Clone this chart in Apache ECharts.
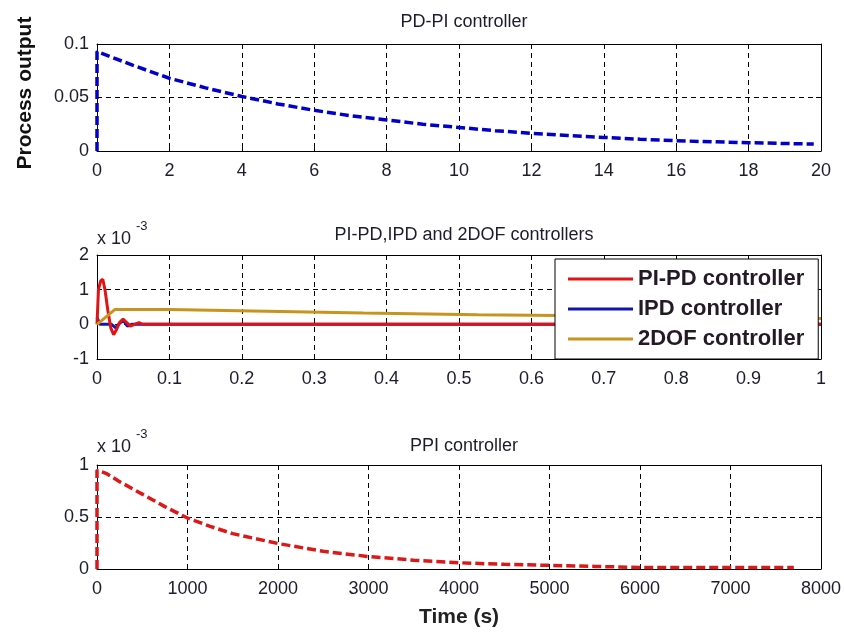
<!DOCTYPE html>
<html>
<head>
<meta charset="utf-8">
<script src="https://cdn.jsdelivr.net/npm/echarts@6/dist/echarts.min.js"></script>
<style>
  html, body { margin: 0; padding: 0; background: #fff; }
  #chart { width: 844px; height: 633px; }
</style>
</head>
<body>
<div id="chart"></div>
<script>
// PD-PI controller (top panel)
const pdpiTime = [0, 0, 1, 2, 3, 4, 5, 6, 7, 8, 9, 10, 11, 12, 13, 14, 15, 16, 17, 18, 19, 19.8]
const pdpiOut = [0, 0.093, 0.080, 0.068, 0.059, 0.051, 0.044, 0.038, 0.033, 0.029, 0.025, 0.022, 0.019, 0.0165, 0.0145, 0.0127, 0.011, 0.0096, 0.0086, 0.0078, 0.007, 0.0065]

// middle panel, values in units of 10^-3
const pipdTime = [0, 0.002, 0.005, 0.008, 0.011, 0.015, 0.019, 0.023, 0.027, 0.031, 0.036, 0.041, 0.046, 0.052, 0.058, 0.063, 1]
const pipdOut = [0, 1.0, 1.25, 1.3, 1.0, 0.4, -0.1, -0.3, -0.15, 0.05, 0.15, 0.05, -0.05, 0.0, 0.05, 0, 0]
const ipdTime = [0, 0.004, 0.02, 0.026, 0.032, 0.037, 0.042, 0.048, 1]
const ipdOut = [0.2, 0, 0, -0.1, 0.05, 0.1, -0.05, 0, 0]
const dofTime = [0, 0.025, 0.1, 0.101, 0.234, 0.235, 0.368, 0.369, 0.526, 0.527, 0.75, 0.751, 0.9, 0.901, 1]
const dofOut = [0, 0.43, 0.43, 0.38, 0.38, 0.33, 0.33, 0.28, 0.28, 0.23, 0.23, 0.2, 0.2, 0.17, 0.17]

// PPI controller (bottom panel), values in units of 10^-3
const ppiTime = [0, 0, 100, 250, 500, 750, 1000, 1250, 1500, 2000, 2500, 3000, 3500, 4000, 4500, 5000, 5500, 6000, 7000, 7700]
const ppiOut = [0, 0.95, 0.92, 0.84, 0.72, 0.60, 0.49, 0.41, 0.34, 0.245, 0.17, 0.12, 0.085, 0.06, 0.045, 0.035, 0.025, 0.015, 0.015, 0.015]

const zip = (xs, ys) => xs.map((x, i) => [x, ys[i]])

const FONT = 'Liberation Sans, Arial, sans-serif'
const TXT = '#1c1c2c'

const grids = [
  { left: 97, right: 23, top: 44, height: 107 },
  { left: 97, right: 23, top: 255, height: 104 },
  { left: 97, right: 23, top: 465, height: 104 }
]
const xRanges = [[0, 20, 2], [0, 1, 0.1], [0, 8000, 1000]]
const yRanges = [[0, 0.1, 0.05], [-1, 2, 1], [0, 1, 0.5]]

const gridLine = { show: true, lineStyle: { color: '#000', type: [5, 4], width: 1 } }
const axisLine = { show: true, onZero: false, lineStyle: { color: '#000', width: 1 } }
const tick = { show: true, inside: true, length: 5, lineStyle: { color: '#000' } }
const label = { color: TXT, fontSize: 18, fontFamily: FONT, formatter: v => String(+v.toFixed(4)) }

const xAxis = []
const yAxis = []
grids.forEach((g, i) => {
  const [xmin, xmax, xint] = xRanges[i]
  const [ymin, ymax, yint] = yRanges[i]
  xAxis.push({ type: 'value', gridIndex: i, min: xmin, max: xmax, interval: xint, position: 'bottom',
    axisLine, axisTick: tick, splitLine: gridLine, axisLabel: { ...label, margin: 11 } })
  yAxis.push({ type: 'value', gridIndex: i, min: ymin, max: ymax, interval: yint, position: 'left',
    axisLine, axisTick: tick, splitLine: gridLine, axisLabel: { ...label, margin: 8 } })
})
// box ticks on top and right edges
grids.forEach((g, i) => {
  const [xmin, xmax, xint] = xRanges[i]
  const [ymin, ymax, yint] = yRanges[i]
  xAxis.push({ type: 'value', gridIndex: i, min: xmin, max: xmax, interval: xint, position: 'top',
    axisLine, axisTick: tick, splitLine: { show: false }, axisLabel: { show: false } })
  yAxis.push({ type: 'value', gridIndex: i, min: ymin, max: ymax, interval: yint, position: 'right',
    axisLine, axisTick: tick, splitLine: { show: false }, axisLabel: { show: false } })
})

const titleStyle = { color: TXT, fontSize: 18, fontWeight: 'normal', fontFamily: FONT }

const chart = echarts.init(document.getElementById('chart'))
chart.setOption({
  backgroundColor: '#fff',
  animation: false,
  title: [
    { text: 'PD-PI controller', left: 459, top: 8, textAlign: 'center', textStyle: titleStyle },
    { text: 'PI-PD,IPD and 2DOF controllers', left: 459, top: 221, textAlign: 'center', textStyle: titleStyle },
    { text: 'PPI controller', left: 459, top: 432, textAlign: 'center', textStyle: titleStyle }
  ],
  grid: grids,
  xAxis,
  yAxis,
  legend: {
    data: ['PI-PD controller', 'IPD controller', '2DOF controller'],
    orient: 'vertical',
    left: 555,
    top: 259,
    padding: [9, 14, 9, 13],
    itemGap: 8,
    itemWidth: 65,
    itemHeight: 3,
    icon: 'rect',
    backgroundColor: '#fff',
    borderColor: '#000',
    borderWidth: 1,
    textStyle: { color: '#231a26', fontSize: 22, fontWeight: 'bold', fontFamily: FONT }
  },
  graphic: [
    { type: 'text', x: 97, y: 239, style: { text: 'x 10', fill: TXT, font: '18px ' + FONT, textVerticalAlign: 'middle' } },
    { type: 'text', x: 136, y: 226, style: { text: '-3', fill: TXT, font: '13px ' + FONT, textVerticalAlign: 'middle' } },
    { type: 'text', x: 97, y: 447, style: { text: 'x 10', fill: TXT, font: '18px ' + FONT, textVerticalAlign: 'middle' } },
    { type: 'text', x: 136, y: 434, style: { text: '-3', fill: TXT, font: '13px ' + FONT, textVerticalAlign: 'middle' } },
    { type: 'text', x: 25, y: 93, rotation: Math.PI / 2,
      style: { text: 'Process output', fill: '#111', font: 'bold 21px ' + FONT, textAlign: 'center', textVerticalAlign: 'middle' } },
    { type: 'text', x: 459, y: 617,
      style: { text: 'Time (s)', fill: '#222', font: 'bold 21px ' + FONT, textAlign: 'center', textVerticalAlign: 'middle' } }
  ],
  series: [
    {
      name: 'PD-PI controller', type: 'line', xAxisIndex: 0, yAxisIndex: 0,
      data: zip(pdpiTime, pdpiOut), showSymbol: false, symbol: 'none',
      lineStyle: { color: '#0000c8', width: 3.5, type: [9, 4] }, itemStyle: { color: '#0000c8' }
    },
    {
      name: 'IPD controller', type: 'line', xAxisIndex: 1, yAxisIndex: 1,
      data: zip(ipdTime, ipdOut), showSymbol: false, symbol: 'none',
      lineStyle: { color: '#1414b4', width: 3 }, itemStyle: { color: '#1414b4' }
    },
    {
      name: 'PI-PD controller', type: 'line', xAxisIndex: 1, yAxisIndex: 1,
      data: zip(pipdTime, pipdOut), showSymbol: false, symbol: 'none',
      lineStyle: { color: '#e01414', width: 3 }, itemStyle: { color: '#e01414' }
    },
    {
      name: '2DOF controller', type: 'line', xAxisIndex: 1, yAxisIndex: 1,
      data: zip(dofTime, dofOut), showSymbol: false, symbol: 'none',
      lineStyle: { color: '#c8941e', width: 3 }, itemStyle: { color: '#c8941e' }
    },
    {
      name: 'PPI controller', type: 'line', xAxisIndex: 2, yAxisIndex: 2,
      data: zip(ppiTime, ppiOut), showSymbol: false, symbol: 'none',
      lineStyle: { color: '#dc1818', width: 3.5, type: [9, 4] }, itemStyle: { color: '#dc1818' }
    }
  ]
})
</script>
</body>
</html>
